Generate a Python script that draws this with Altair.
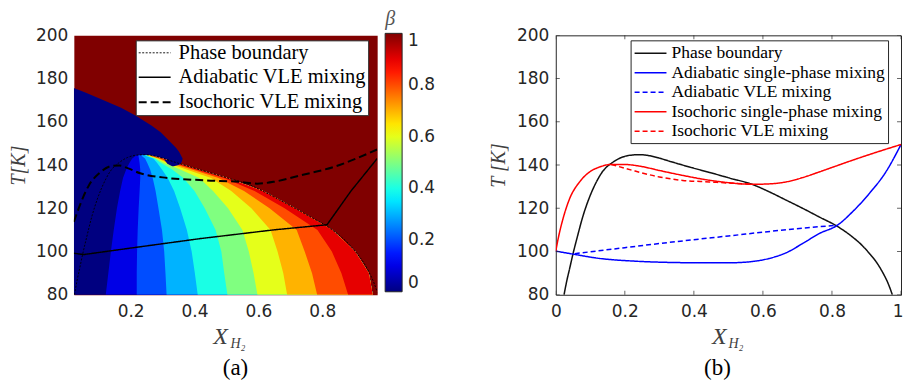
import altair as alt
import pandas as pd

# ---------------- axes / ticks ----------------
XDOM_A = [0.022, 0.972]
XDOM_B = [0, 1]
YDOM = [80, 200]
XTICKS_A = [0.2, 0.4, 0.6, 0.8]
XTICKS_B = [0, 0.2, 0.4, 0.6, 0.8, 1]
YTICKS = [80, 100, 120, 140, 160, 180, 200]
BETA_TICKS = [0, 0.2, 0.4, 0.6, 0.8, 1]

# jet colormap stops
JET_STOPS = [0, 0.125, 0.375, 0.625, 0.875, 1]
JET_COLORS = ["#000080", "#0000ff", "#00ffff", "#ffff00", "#ff0000", "#800000"]

# ---------------- panel (a): filled contours of beta ----------------
T_GRID = [80, 90, 100, 110, 120, 128, 134, 138, 141, 143, 144.5]
X_LEFT = [0.026, 0.037, 0.052, 0.066, 0.088, 0.108, 0.126, 0.143, 0.165, 0.185, 0.215]
C1 = [0.122, 0.130, 0.138, 0.147, 0.157, 0.167, 0.176, 0.186, 0.196, 0.205, 0.218]
C2 = [0.219, 0.219, 0.220, 0.222, 0.225, 0.228, 0.230, 0.230, 0.228, 0.226, 0.224]
C3 = [0.3125, 0.309, 0.305, 0.298, 0.287, 0.278, 0.269, 0.261, 0.252, 0.245, 0.232]
C4 = [0.410, 0.401, 0.391, 0.376, 0.355, 0.336, 0.316, 0.298, 0.283, 0.271, 0.240]
C5 = [0.503, 0.493, 0.484, 0.466, 0.432, 0.400, 0.365, 0.330, 0.295, 0.275, 0.246]
C6 = [0.597, 0.585, 0.570, 0.550, 0.505, 0.458, 0.415, 0.355, 0.305, 0.280, 0.250]
C7 = [0.690, 0.678, 0.660, 0.638, 0.578, 0.515, 0.452, 0.375, 0.315, 0.285, 0.253]
C8 = [0.784, 0.768, 0.745, 0.720, 0.635, 0.555, 0.475, 0.392, 0.326, 0.290, 0.256]
C9 = [0.881, 0.860, 0.830, 0.785, 0.682, 0.588, 0.492, 0.403, 0.336, 0.295, 0.258]
X_RIGHT = [0.958, 0.946, 0.903, 0.832, 0.715, 0.615, 0.503, 0.412, 0.345, 0.300, 0.260]
BAND_EDGES = [X_LEFT, C1, C2, C3, C4, C5, C6, C7, C8, C9]
BETA_LEVELS = [0.0, 0.1, 0.2, 0.3, 0.4, 0.5, 0.6, 0.7, 0.8, 0.9]

# beta = 0 region (liquid side + upper-left lobe)
NAVY_T = [80, 139.5, 140.6, 142.9, 146.0, 148.0, 152.1, 155.2, 158.3, 162.9, 166.5, 170.6, 173.5, 175.7]
NAVY_X = [0.30, 0.335, 0.356, 0.363, 0.352, 0.342, 0.315, 0.294, 0.265, 0.215, 0.17, 0.106, 0.06, 0.022]
# lower lip of the lobe, lying over the top of the two-phase region
LIP_T = [139.5, 140.0, 140.6, 141.5, 142.5]
LIP_LO = [0.330, 0.322, 0.315, 0.310, 0.305]
LIP_HI = [0.335, 0.350, 0.356, 0.360, 0.362]

# ---------------- curves ----------------
PB_X = [0.024, 0.032, 0.04, 0.05, 0.062, 0.079, 0.095, 0.108, 0.122, 0.137, 0.15, 0.161, 0.175, 0.19,
        0.214, 0.243, 0.272, 0.30, 0.329, 0.387, 0.445, 0.503, 0.57, 0.62, 0.667, 0.715, 0.763, 0.816,
        0.859, 0.885, 0.908, 0.93, 0.946, 0.962, 0.975]
PB_T = [80, 86.5, 92, 99, 106.5, 116.5, 124, 129, 133.5, 137.3, 139.5, 140.8, 142.3, 143.5,
        144.5, 144.8, 144.3, 143.2, 141.8, 139.1, 136.6, 134.0, 131.0, 127.5, 123.8, 120.0, 116.0, 111.6,
        106.8, 103.2, 99.2, 94.8, 90.6, 85.5, 80]

# panel (b)
AS_X = [0, 0.05, 0.127, 0.223, 0.32, 0.416, 0.503, 0.57, 0.618, 0.667, 0.715, 0.763, 0.816, 0.859, 0.908, 0.956, 1.0]
AS_T = [100.2, 98.8, 96.8, 95.6, 95.0, 94.8, 94.8, 95.4, 96.8, 99.4, 103.7, 108.3, 112.2, 118.3, 126.8, 136.8, 149.5]
AV_X = [0.055, 0.2, 0.35, 0.5, 0.65, 0.815]
AV_T = [99.0, 101.8, 104.6, 107.2, 109.8, 112.2]
IS_X = [0, 0.007, 0.021, 0.04, 0.069, 0.098, 0.127, 0.161, 0.195, 0.243, 0.3, 0.368, 0.436, 0.503, 0.57,
        0.62, 0.667, 0.715, 0.763, 0.811, 0.859, 0.936, 1.0]
IS_T = [100.2, 106, 115.2, 124.4, 132.2, 136.8, 139.1, 140.3, 140.3, 139.5, 137.5, 135.2, 133.2, 131.8, 131.1,
        131.3, 132.2, 134.2, 136.8, 139.5, 142.2, 146.3, 149.5]
IV_X = [0.161, 0.223, 0.3, 0.368, 0.445, 0.51, 0.565]
IV_T = [140.3, 137.5, 134.5, 132.9, 132.2, 131.6, 131.2]

# panel (a)
AVM_X = [0.022, 0.053, 0.2, 0.419, 0.647, 0.815, 0.89, 0.972]
AVM_T = [99.2, 98.6, 101.6, 106.0, 110.0, 112.4, 128.0, 143.0]
IVM_X = [0.022, 0.043, 0.069, 0.1, 0.142, 0.165, 0.19, 0.23, 0.3, 0.438, 0.542, 0.596, 0.65, 0.731, 0.835, 0.972]
IVM_T = [113.7, 122.2, 130.6, 136.0, 139.6, 139.8, 138.6, 136.2, 134.3, 132.9, 132.2, 131.4, 132.3, 135.2, 139.1, 147.2]

SERIES_A = ["Phase boundary", "Adiabatic VLE mixing", "Isochoric VLE mixing"]
SERIES_B = ["Phase boundary", "Adiabatic single-phase mixing", "Adiabatic VLE mixing",
            "Isochoric single-phase mixing", "Isochoric VLE mixing"]


def curve(field, name, xs, ts):
    return pd.DataFrame({field: name, "x": xs, "T": ts, "i": list(range(len(xs)))})


# ---------------- shared styling ----------------
LABEL_FONT = "DejaVu Sans"
SERIF = "Liberation Serif"

yscale = alt.Scale(domain=YDOM, nice=False, zero=False)
xscale_a = alt.Scale(domain=XDOM_A, nice=False, zero=False)
xscale_b = alt.Scale(domain=XDOM_B, nice=False, zero=False)

axis_common = dict(labelFont=LABEL_FONT, labelFontSize=17, labelColor="#262626", ticks=False,
                   domain=False, grid=False)
axis_y_a = alt.Axis(values=YTICKS, format="d", title="T[K]", titleFont=SERIF, titleFontStyle="italic",
                    titleFontSize=20, titleFontWeight="normal", titleColor="#404040", titlePadding=7,
                    labelPadding=6, **axis_common)
axis_x_a = alt.Axis(values=XTICKS_A, format="~g", title=None, labelPadding=9, **axis_common)
axis_y_b = alt.Axis(values=YTICKS, format="d", title="T [K]", titleFont=SERIF, titleFontStyle="italic",
                    titleFontSize=20, titleFontWeight="normal", titleColor="#404040", titlePadding=8,
                    labelPadding=7, **axis_common)
axis_x_b = alt.Axis(values=XTICKS_B, format="~g", title=None, labelPadding=9,
                    labelAlign=alt.expr("datum.value == 1 ? 'right' : 'center'"),
                    labelOffset=alt.expr("datum.value == 1 ? 2 : 0"), **axis_common)

fill_scale = alt.Scale(domain=JET_STOPS, range=JET_COLORS, interpolate="rgb")
grad_legend = alt.Legend(title="β", orient="none", legendX=312, legendY=-26, direction="vertical",
                         gradientLength=259, gradientThickness=17, values=BETA_TICKS, format="~g",
                         labelFont=LABEL_FONT, labelFontSize=17, labelColor="#262626", labelOffset=6,
                         labelBaseline="middle",
                         titleFont=SERIF, titleFontStyle="italic", titleFontSize=20, titleFontWeight="normal",
                         titleColor="#555555", titlePadding=4, titleAnchor="start",
                         gradientStrokeColor="#262626", gradientStrokeWidth=1, padding=0)

# ---------------- panel (a) ----------------
def area_layer(df):
    return alt.Chart(df).mark_area(orient="horizontal", clip=True).encode(
        y=alt.Y("T:Q", scale=yscale, axis=axis_y_a),
        x=alt.X("lo:Q", scale=xscale_a, axis=axis_x_a, stack=None),
        x2="hi:Q",
        fill=alt.Fill("beta:Q", scale=fill_scale, legend=grad_legend),
    )


navy_df = pd.DataFrame({"T": NAVY_T, "lo": XDOM_A[0], "hi": NAVY_X, "beta": 0.0})
layers_a = [area_layer(navy_df)]
for lvl, edge in zip(BETA_LEVELS, BAND_EDGES):
    df = pd.DataFrame({"T": T_GRID, "lo": edge, "hi": X_RIGHT, "beta": lvl})
    layers_a.append(area_layer(df))
lip_df = pd.DataFrame({"T": LIP_T, "lo": LIP_LO, "hi": LIP_HI, "beta": 0.0})
layers_a.append(area_layer(lip_df))

stroke_a = alt.Stroke("curve_a:N", scale=alt.Scale(domain=SERIES_A, range=["black", "black", "black"]),
                      legend=alt.Legend(title=None, orient="none", legendX=62, legendY=5,
                                        symbolType="M-1,0L2.2,0", symbolSize=400,
                                        labelFont=SERIF, labelFontSize=20.5, labelColor="black",
                                        labelOffset=19, rowPadding=3, padding=2, fillColor="white",
                                        strokeColor="#262626", labelLimit=400))
dash_a = alt.StrokeDash("curve_a:N", scale=alt.Scale(domain=SERIES_A, range=[[2, 1.5], [1, 0], [8, 4]]),
                        legend=None)
width_a = alt.StrokeWidth("curve_a:N", scale=alt.Scale(domain=SERIES_A, range=[0.9, 2, 2.5]), legend=None)

smooth_a_df = pd.concat([
    curve("curve_a", SERIES_A[0], PB_X, PB_T),
    curve("curve_a", SERIES_A[2], IVM_X, IVM_T),
])
kinked_a_df = curve("curve_a", SERIES_A[1], AVM_X, AVM_T)
for df, interp in [(smooth_a_df, "monotone"), (kinked_a_df, "linear")]:
    layers_a.append(alt.Chart(df).mark_line(clip=True, interpolate=interp).encode(
        x=alt.X("x:Q", scale=xscale_a, axis=axis_x_a),
        y=alt.Y("T:Q", scale=yscale, axis=axis_y_a),
        order="i:Q", stroke=stroke_a, strokeDash=dash_a, strokeWidth=width_a,
    ))

xa_txt = alt.Chart(pd.DataFrame({"t": ["X"]})).mark_text(
    font=SERIF, fontStyle="italic", fontSize=24, color="#404040", align="center", baseline="middle"
).encode(x=alt.value(147), y=alt.value(302), text="t:N")
xa_sub = alt.Chart(pd.DataFrame({"t": ["H₂"]})).mark_text(
    font=SERIF, fontStyle="italic", fontSize=14, color="#404040", align="left", baseline="middle"
).encode(x=alt.value(157), y=alt.value(309), text="t:N")
layers_a += [xa_txt, xa_sub]

panel_a = alt.layer(*layers_a).properties(
    width=304, height=260,
    view=alt.ViewBackground(fill="#800000", stroke="transparent"),
    title=alt.TitleParams("(a)", orient="bottom", font=SERIF, fontSize=23, fontWeight="normal",
                          color="black", anchor="middle", frame="group", dx=10, offset=6),
)

# ---------------- panel (b) ----------------
lines_b_df = pd.concat([
    curve("curve_b", SERIES_B[0], PB_X, PB_T),
    curve("curve_b", SERIES_B[1], AS_X, AS_T),
    curve("curve_b", SERIES_B[2], AV_X, AV_T),
    curve("curve_b", SERIES_B[3], IS_X, IS_T),
    curve("curve_b", SERIES_B[4], IV_X, IV_T),
])
lines_b = alt.Chart(lines_b_df).mark_line(clip=True, strokeWidth=1.5, interpolate="monotone").encode(
    x=alt.X("x:Q", scale=xscale_b, axis=axis_x_b),
    y=alt.Y("T:Q", scale=yscale, axis=axis_y_b),
    order="i:Q",
    stroke=alt.Stroke("curve_b:N", scale=alt.Scale(domain=SERIES_B,
                                                   range=["#111111", "#0000ff", "#0000ff", "#ff0000", "#ff0000"]),
                      legend=alt.Legend(title=None, orient="none", legendX=75, legendY=5,
                                        symbolType="M-1,0L2.55,0", symbolSize=324, symbolStrokeWidth=1.5,
                                        labelFont=SERIF, labelFontSize=17.5, labelColor="black",
                                        labelOffset=18, rowPadding=0.5, padding=3, fillColor="white",
                                        strokeColor="#262626", labelLimit=400)),
    strokeDash=alt.StrokeDash("curve_b:N", scale=alt.Scale(domain=SERIES_B,
                                                           range=[[1, 0], [1, 0], [5, 3], [1, 0], [5, 3]]),
                              legend=None),
)

tick_style = dict(color="#262626", thickness=1, size=8, clip=True)
ticks_bottom = alt.Chart(pd.DataFrame({"v": XTICKS_B})).mark_tick(orient="vertical", **tick_style).encode(
    x=alt.X("v:Q", scale=xscale_b, axis=axis_x_b), y=alt.datum(YDOM[0]))
ticks_top = alt.Chart(pd.DataFrame({"v": XTICKS_B})).mark_tick(orient="vertical", **tick_style).encode(
    x=alt.X("v:Q", scale=xscale_b, axis=axis_x_b), y=alt.datum(YDOM[1]))
ticks_left = alt.Chart(pd.DataFrame({"v": YTICKS})).mark_tick(orient="horizontal", **tick_style).encode(
    y=alt.Y("v:Q", scale=yscale, axis=axis_y_b), x=alt.datum(XDOM_B[0]))
ticks_right = alt.Chart(pd.DataFrame({"v": YTICKS})).mark_tick(orient="horizontal", **tick_style).encode(
    y=alt.Y("v:Q", scale=yscale, axis=axis_y_b), x=alt.datum(XDOM_B[1]))

xb_txt = alt.Chart(pd.DataFrame({"t": ["X"]})).mark_text(
    font=SERIF, fontStyle="italic", fontSize=24, color="#404040", align="center", baseline="middle"
).encode(x=alt.value(164), y=alt.value(302), text="t:N")
xb_sub = alt.Chart(pd.DataFrame({"t": ["H₂"]})).mark_text(
    font=SERIF, fontStyle="italic", fontSize=14, color="#404040", align="left", baseline="middle"
).encode(x=alt.value(173), y=alt.value(309), text="t:N")

panel_b = alt.layer(lines_b, ticks_bottom, ticks_top, ticks_left, ticks_right, xb_txt, xb_sub).properties(
    width=346, height=260,
    view=alt.ViewBackground(fill="white", stroke="#262626", strokeWidth=1),
    title=alt.TitleParams("(b)", orient="bottom", font=SERIF, fontSize=23, fontWeight="normal",
                          color="black", anchor="middle", frame="group", dx=-11, offset=6),
)

chart = alt.hconcat(panel_a, panel_b, spacing=179, bounds="flush").resolve_scale(
    x="independent", y="independent", fill="independent", stroke="independent",
    strokeDash="independent", strokeWidth="independent"
).resolve_legend(
    fill="independent", stroke="independent", strokeDash="independent", strokeWidth="independent"
).properties(
    padding={"left": 8, "top": 8, "right": 0, "bottom": 0}
).configure(background="white")

chart.save("out.html", embed_options={"renderer": "svg", "actions": False})
